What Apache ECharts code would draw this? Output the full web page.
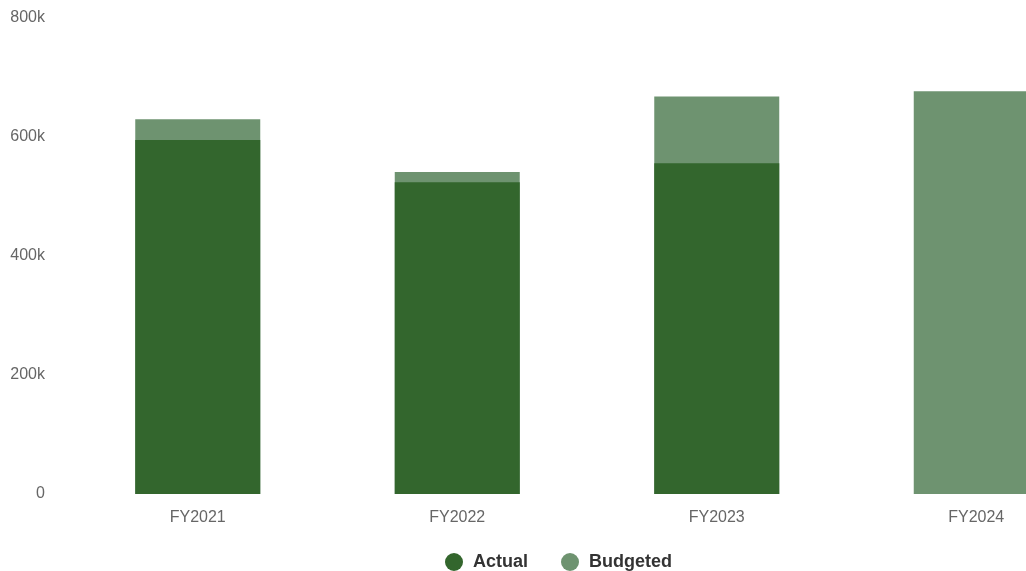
<!DOCTYPE html>
<html>
<head>
<meta charset="utf-8">
<script src="https://cdn.jsdelivr.net/npm/echarts@6/dist/echarts.min.js"></script>
<style>
  html, body { margin: 0; padding: 0; background: #fff; }
  #chart { width: 1026px; height: 571px; }
</style>
</head>
<body>
<div id="chart"></div>
<script>
const categories = ['FY2021', 'FY2022', 'FY2023', 'FY2024'];
const actualValues = [595000, 524000, 556000, null];
const budgetedValues = [630000, 541000, 668000, 677000];
const yTicks = [0, 200000, 400000, 600000, 800000];

const chart = echarts.init(document.getElementById('chart'));

const option = {
  animation: false,
  grid: { left: 68, width: 1038, top: 18, height: 476, outerBoundsMode: 'none', containLabel: false },
  legend: {
    left: 440,
    top: 548,
    icon: 'circle',
    itemWidth: 18,
    itemHeight: 18,
    itemGap: 33,
    textStyle: {
      color: '#333',
      fontWeight: 'bold',
      fontSize: 18,
      fontFamily: 'Liberation Sans',
      padding: [0, 0, 0, 5]
    }
  },
  xAxis: {
    type: 'category',
    data: categories,
    axisLine: { show: false },
    axisTick: { show: false },
    axisLabel: { color: '#666', fontSize: 16, margin: 16, fontFamily: 'Liberation Sans' }
  },
  yAxis: {
    type: 'value',
    min: yTicks[0],
    max: yTicks[yTicks.length - 1],
    interval: 200000,
    splitLine: { show: false },
    axisLabel: {
      color: '#666',
      fontSize: 16,
      margin: 23,
      padding: [3, 0, 0, 0],
      fontFamily: 'Liberation Sans',
      formatter: v => v === 0 ? '0' : (v / 1000) + 'k'
    }
  },
  series: [
    {
      name: 'Actual',
      type: 'bar',
      data: actualValues,
      barWidth: 125,
      barGap: '-100%',
      z: 3,
      itemStyle: { color: '#33662d' }
    },
    {
      name: 'Budgeted',
      type: 'bar',
      data: budgetedValues,
      barWidth: 125,
      z: 2,
      itemStyle: { color: '#6e9370' }
    }
  ]
};

chart.setOption(option);
</script>
</body>
</html>
